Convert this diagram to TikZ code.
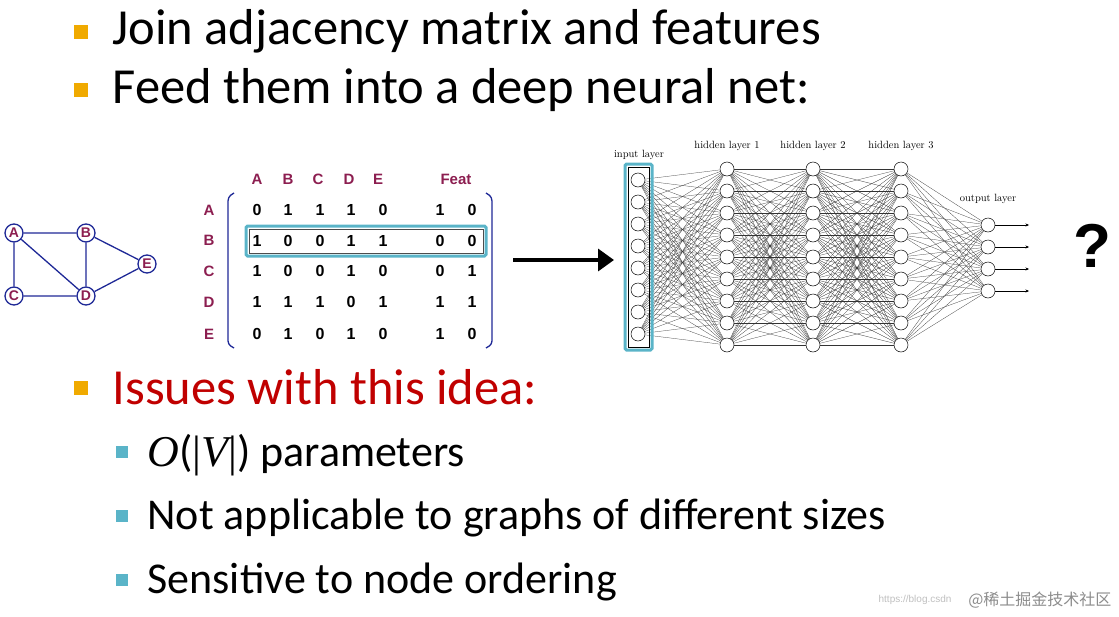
\documentclass[tikz,border=0pt]{standalone}
\usepackage{fontspec}
\setmainfont{Carlito}
\newfontfamily\arialf{Liberation Sans}
\newfontfamily\timesf{Liberation Serif}
\newfontfamily\lmf{Latin Modern Roman}
\newfontfamily\cjkf{Noto Sans CJK SC}
\usetikzlibrary{arrows.meta}
\definecolor{plum}{RGB}{140,30,80}
\definecolor{gblue}{RGB}{30,40,150}
\definecolor{teal}{RGB}{90,180,200}
\definecolor{orng}{RGB}{240,170,0}
\definecolor{issred}{RGB}{192,0,0}
\begin{document}
\begin{tikzpicture}[x=1pt,y=-1pt,
  gnode/.style={circle,draw=gblue,line width=1.3pt,fill=white,inner sep=0pt,minimum size=18pt,text=plum,font=\arialf\bfseries\fontsize{14}{14}\selectfont},
  gedge/.style={gblue,line width=1.3pt},
  lab/.style={text=plum,font=\arialf\bfseries\fontsize{15}{15}\selectfont},
  ent/.style={font=\arialf\bfseries\fontsize{16}{16}\selectfont},
  nn/.style={circle,draw,fill=white,inner sep=0pt,minimum size=14pt,line width=0.5pt},
  nnlab/.style={font=\lmf\fontsize{10.5}{10.5}\selectfont},
  bul/.style={fill=orng,minimum size=14pt,inner sep=0pt},
  sbul/.style={fill=teal,minimum size=12pt,inner sep=0pt},
  big/.style={anchor=west,font=\fontsize{50.5}{50}\selectfont},
  mid/.style={anchor=west,font=\fontsize{44}{44}\selectfont}]
\useasboundingbox (0,0) rectangle (1119,616);
% bullets
\node[bul] (b1) at (81,32) {};
\node[big] (t1) at (109,31) {Join adjacency matrix and features};
\node[bul] (b2) at (81,90) {};
\node[big] (t2) at (109,90) {Feed them into a deep neural net:};
\node[bul] (b3) at (81,388) {};
\node[big,text=issred] (t3) at (109,387) {Issues with this idea:};
\node[sbul] (s1) at (122,452) {};
\node[mid] (u1) at (144,455) {{\timesf\itshape O}({\timesf|\itshape V\upshape|}) parameters};
\node[sbul] (s2) at (122,516) {};
\node[mid] (u2) at (144,518) {Not applicable to graphs of different sizes};
\node[sbul] (s3) at (122,580) {};
\node[mid] (u3) at (144,582) {Sensitive to node ordering};
% graph
\node[gnode] (A) at (14,233) {A};
\node[gnode] (B) at (86,233) {B};
\node[gnode] (C) at (14,296) {C};
\node[gnode] (D) at (86,296) {D};
\node[gnode] (E) at (147,264) {E};
\draw[gedge] (A)--(B) (A)--(C) (A)--(D) (B)--(D) (B)--(E) (C)--(D) (D)--(E);
% matrix
\foreach \n/\x in {A/257,B/288,C/318,D/349,E/378} \node[lab] (h\n) at (\x,179) {\n};
\node[lab] (hF) at (456,179) {Feat};
\foreach \n/\y in {A/210,B/240,C/271,D/302,E/334} \node[lab] (r\n) at (209,\y) {\n};
\foreach \row [count=\i] in {{0,1,1,1,0,1,0},{1,0,0,1,1,0,0},{1,0,0,1,0,0,1},{1,1,1,0,1,1,1},{0,1,0,1,0,1,0}}{
  \foreach \v [count=\j] in \row {
    \pgfmathsetmacro{\xx}{{257,288,320,351,383,440,472}[\j-1]}
    \pgfmathsetmacro{\yy}{{210,241,271,302,334}[\i-1]}
    \node[ent] (m\i\j) at (\xx,\yy) {\v};
  }}
\draw[gblue,line width=1.3pt] (234,193) .. controls (228,196) and (228,199) .. (228,204) -- (228,338) .. controls (228,343) and (228,345) .. (234,348);
\draw[gblue,line width=1.3pt] (486,193) .. controls (492,196) and (492,199) .. (492,204) -- (492,338) .. controls (492,343) and (492,345) .. (486,348);
\draw[teal,line width=3pt,rounded corners=1.5pt] (246,226) rectangle (486,256);
\draw[black!70,line width=0.5pt] (249,229) rectangle (483,253);
% arrow
\coordinate (a1) at (513,260);
\coordinate (a2) at (614,260);
\draw[line width=3.5pt,-{Triangle[length=16pt,width=22pt]}] (a1)--(a2);
% NN
\foreach \i in {1,...,8} \node[nn] (i\i) at (638,{180+22*(\i-1)}) {};
\foreach \l/\x in {1/727,2/813,3/901}
  \foreach \i in {1,...,9} \node[nn] (h\l\i) at (\x,{169+22*(\i-1)}) {};
\foreach \i in {1,...,4} \node[nn] (o\i) at (988,{225+22*(\i-1)}) {};
\begin{scope}[line width=0.25pt,black!80]
\foreach \a in {1,...,8} \foreach \b in {1,...,9} \draw (i\a)--(h1\b);
\foreach \a in {1,...,9} \foreach \b in {1,...,9} \draw (h1\a)--(h2\b) (h2\a)--(h3\b);
\foreach \a in {1,...,9} \foreach \b in {1,...,4} \draw (h3\a)--(o\b);
\end{scope}
\foreach \i in {1,...,4} {\coordinate (oe\i) at (1029,{225+22*(\i-1)}); \draw[-{Stealth[length=3.5pt,width=3pt]},line width=0.4pt] (o\i)--(oe\i);}
\draw[teal,line width=3pt,rounded corners=1.5pt] (625,164) rectangle (652,350);
\draw[line width=0.4pt] (628,167) rectangle (649,347);
\node[nnlab] (li) at (639,155) {input layer};
\node[nnlab] (l1) at (727,146) {hidden layer 1};
\node[nnlab] (l2) at (813,146) {hidden layer 2};
\node[nnlab] (l3) at (901,146) {hidden layer 3};
\node[nnlab] (lo) at (988,199) {output layer};
\node[font=\arialf\bfseries\fontsize{62}{62}\selectfont] (q) at (1092,246) {?};
% watermark
\node[anchor=east,text=black!25,font=\arialf\fontsize{10}{10}\selectfont] (w1) at (955,600) {https://blog.csdn};
\node[anchor=east,text=black!45,font=\cjkf\fontsize{16}{16}\selectfont] (w2) at (1115,600) {@稀土掘金技术社区};
\end{tikzpicture}
\end{document}
